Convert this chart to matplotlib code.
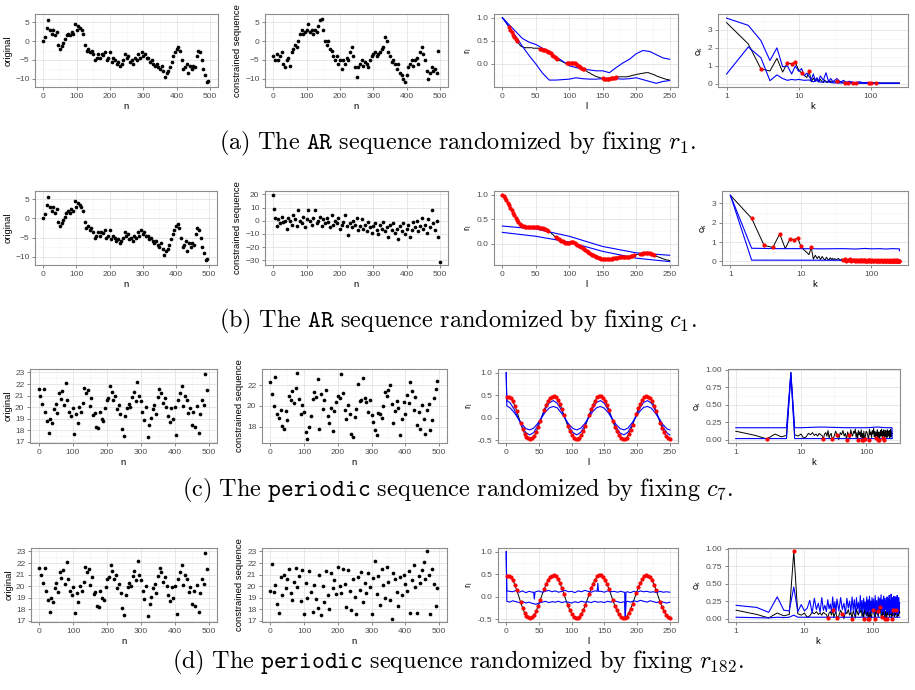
import numpy as np
import matplotlib.pyplot as plt
from matplotlib.ticker import NullFormatter

plt.rcParams['font.family'] = ['Liberation Sans', 'DejaVu Sans']

# ---- sequences (n = 0, 5, 10, ... 495) ----
ar_orig = [0.0, 1.2, 3.5, 5.5, 3.0, 2.0, 3.0, 1.5, 2.5, -1.0,
           -2.0, -1.2, -0.5, 0.5, 1.5, 2.0, 1.5, 2.5, 2.0, 4.5,
           3.0, 4.0, 3.5, 3.0, 2.0, -1.0, -2.5, -2.0, -3.0, -2.5,
           -3.5, -5.0, -4.5, -3.5, -4.5, -3.5, -3.8, -3.0, -5.0, -4.5,
           -3.0, -5.5, -4.5, -5.0, -6.0, -5.5, -6.5, -6.0, -5.0, -3.5,
           -4.5, -4.0, -5.5, -5.0, -6.0, -4.5, -5.0, -3.5, -4.5, -3.0,
           -4.0, -3.5, -4.5, -4.5, -5.5, -5.0, -6.0, -6.5, -6.0, -7.0,
           -7.5, -6.5, -8.0, -9.5, -8.5, -8.0, -7.0, -5.5, -4.0, -3.0,
           -2.0, -1.5, -2.5, -5.0, -7.5, -7.0, -6.0, -8.5, -6.5, -7.5,
           -6.5, -7.0, -4.0, -2.5, -3.0, -5.0, -7.5, -9.0, -11.0, -10.5]
ar_r1 = [-4, -5, -3.5, -5, -4, -3, -6, -7, -5, -4.5,
         -6.5, -3, -2, -1, -1.5, 0, 2, 3, 2, 2.5,
         3, 4.5, 2.5, 3, 2, 3, 2.5, 4, 5.5, 6,
         3, 0, -1, 0, -2, -2.5, -4, -5, -4, -6,
         -5, -7.5, -5, -6, -4.5, -5, -3, -1.5, -4, -7,
         -9.5, -7, -6, -5, -6.5, -5.5, -6, -7, -5, -4,
         -3.5, -3, -4, -3.5, -3, -2, -1.5, 1, 0, -3,
         -4, -5.5, -5, -6, -7.5, -6, -8.5, -9, -10, -11,
         -9, -7, -6, -5, -6.5, -5, -4.5, -6, -3, -1.5,
         -3.5, -5, -8, -10, -8.5, -7, -8, -7.5, -8.5, -2.5]
ar_c1 = [19.5, 2, -4, 1, -2, 3, -1, 0, -6, 2,
         0, -3, 4, 1, -4, 8, 0, -2, 3, -5,
         1, 8, 0, -3, 2, 8, -2, 0, 3, -4,
         1, -2, 2, -1, -5, 4, -3, 0, -2, 2,
         -6, -3, -1, 4, -4, -11, -2, -5, 0, -3,
         2, -7, -4, 1, -6, -3, -8, -1, -5, -9,
         -4, -2, -7, -10, -3, -6, -1, -8, -5, -12,
         -3, -7, -2, -9, -6, -14, -4, -8, -2, -10,
         -6, -3, -12, -7, -1, -5, 0, -8, -4, 2,
         -6, -3, -9, 1, -5, 8, -2, -7, 0, -12]
ar_c1_extra_n = [2, 499]
ar_c1_extra = [9, -31]
per_orig = [21.6, 21.0, 20.3, 21.6, 19.6, 18.8, 17.8, 19.0, 18.6, 19.8,
            20.3, 19.5, 21.2, 20.7, 21.4, 20.2, 22.1, 20.6, 19.6, 19.2,
            19.9, 17.7, 19.4, 18.6, 20.0, 19.6, 20.4, 21.7, 21.2, 21.5,
            20.1, 20.8, 19.3, 19.5, 18.3, 18.2, 19.6, 19.0, 18.8, 19.9,
            20.6, 20.8, 21.8, 21.3, 20.6, 21.0, 19.8, 20.2, 19.4, 18.1,
            17.5, 19.2, 19.9, 20.3, 20.0, 20.9, 21.3, 20.5, 22.2, 21.0,
            20.5, 19.6, 18.9, 20.0, 17.4, 18.5, 19.1, 19.8, 20.2, 19.4,
            20.9, 21.6, 21.2, 20.4, 20.8, 20.0, 19.2, 18.7, 19.9, 19.0,
            20.0, 17.6, 20.6, 21.2, 21.8, 20.1, 21.0, 20.6, 19.5, 19.9,
            18.5, 19.6, 18.3, 20.1, 17.8, 19.4, 20.6, 20.2, 22.9, 21.5]
per_c7 = [22.3, 21.2, 20.0, 22.8, 19.2, 18.8, 19.6, 18.1, 17.8, 19.5,
          18.6, 21.0, 20.6, 21.5, 20.3, 21.8, 23.2, 20.7, 19.2, 20.1,
          19.4, 17.5, 16.8, 18.0, 19.0, 20.7, 21.4, 20.9, 22.6, 17.8,
          21.2, 19.7, 20.6, 21.6, 19.0, 18.3, 19.8, 17.6, 19.5, 20.4,
          21.0, 20.8, 23.1, 21.3, 19.6, 18.7, 20.1, 19.2, 17.3, 17.0,
          18.9, 19.7, 22.1, 20.5, 20.6, 22.7, 20.8, 20.4, 19.4, 20.6,
          19.1, 18.4, 17.7, 17.2, 19.3, 19.2, 18.8, 20.0, 21.4, 21.0,
          21.6, 22.0, 20.2, 18.3, 19.5, 20.5, 19.8, 17.2, 18.7, 20.4,
          19.2, 21.1, 20.3, 22.3, 21.5, 19.6, 20.9, 18.2, 19.4, 17.8,
          20.1, 18.7, 17.3, 19.6, 20.2, 17.7, 18.6, 20.8, 21.7, 22.4]
per_r182 = [19.6, 21.9, 19.5, 20.1, 18.5, 17.7, 20.8, 19.2, 21.0, 19.8,
            20.6, 21.5, 19.4, 18.8, 20.4, 21.6, 19.9, 20.9, 18.7, 21.4,
            17.6, 20.3, 19.0, 21.3, 19.5, 17.8, 20.1, 18.9, 18.1, 21.0,
            17.5, 20.0, 18.6, 21.3, 19.2, 18.0, 21.1, 19.8, 20.5, 19.3,
            21.7, 20.0, 19.4, 21.5, 20.2, 18.2, 21.4, 19.6, 17.9, 20.6,
            19.1, 17.6, 20.8, 19.7, 21.2, 18.6, 20.3, 19.4, 21.1, 19.9,
            17.6, 20.7, 22.2, 19.3, 20.9, 18.4, 21.5, 20.1, 19.0, 21.7,
            20.4, 18.8, 17.2, 21.1, 20.6, 19.5, 18.3, 20.8, 19.2, 21.0,
            20.2, 19.6, 21.3, 17.7, 20.5, 21.8, 19.9, 17.7, 20.9, 20.3,
            21.4, 22.1, 20.6, 23.0, 21.0, 17.6, 21.5, 20.2, 18.3, 19.8]

# ---- autocorrelation r_l ----
# AR sequence, lags 0, 2, 4, ... 250
ar_rl = [1.00, 0.97, 0.93, 0.89, 0.84, 0.79, 0.74, 0.69, 0.63, 0.58, 0.53,
         0.49, 0.45, 0.41, 0.38, 0.37, 0.36, 0.35, 0.35, 0.35, 0.35,
         0.35, 0.35, 0.34, 0.34, 0.34, 0.34, 0.34, 0.33, 0.32, 0.31,
         0.30, 0.29, 0.28, 0.26, 0.25, 0.23, 0.20, 0.18, 0.15, 0.13,
         0.11, 0.09, 0.07, 0.06, 0.05, 0.03, 0.02, 0.01, 0.01, 0.02,
         0.03, 0.03, 0.03, 0.02, 0.00, -0.02, -0.04, -0.06, -0.08, -0.10,
         -0.12, -0.14, -0.16, -0.18, -0.19, -0.21, -0.23, -0.24, -0.26, -0.27,
         -0.28, -0.29, -0.30, -0.31, -0.31, -0.32, -0.32, -0.32, -0.32, -0.32,
         -0.31, -0.31, -0.30, -0.30, -0.29, -0.29, -0.28, -0.28, -0.28, -0.28,
         -0.28, -0.28, -0.28, -0.27, -0.27, -0.26, -0.25, -0.24, -0.24, -0.23,
         -0.22, -0.22, -0.21, -0.21, -0.20, -0.20, -0.19, -0.19, -0.19, -0.20,
         -0.21, -0.22, -0.23, -0.24, -0.26, -0.27, -0.28, -0.29, -0.30, -0.31,
         -0.32, -0.33, -0.34, -0.34, -0.35]
ar_rl_red_a = [(10, 22), (55, 82), (95, 122), (150, 171)]
ar_rl_red_b = [(0, 68), (80, 196), (206, 226)]

a_rl_hi_lag = [0, 10, 20, 30, 40, 50, 60, 70, 80, 90, 100, 110, 120, 130, 140,
               150, 160, 170, 180, 190, 200, 210, 220, 230, 240, 250]
a_rl_hi = [1.0, 0.85, 0.7, 0.55, 0.47, 0.42, 0.34, 0.26, 0.16, 0.06, -0.04, -0.08,
           -0.11, -0.13, -0.15, -0.15, -0.19, -0.08, 0.02, 0.1, 0.22, 0.29, 0.27,
           0.2, 0.13, 0.1]
a_rl_lo = [1.0, 0.8, 0.6, 0.38, 0.18, 0.0, -0.2, -0.35, -0.35, -0.34, -0.33, -0.3,
           -0.32, -0.33, -0.33, -0.32, -0.31, -0.32, -0.33, -0.32, -0.30, -0.34,
           -0.38, -0.42, -0.38, -0.36]
b_rl_lag = [0, 50, 100, 150, 200, 250]
b_rl_hi = [0.36, 0.30, 0.15, -0.06, -0.19, -0.24]
b_rl_lo = [0.23, 0.15, 0.03, -0.16, -0.30, -0.37]

# periodic sequence, lags 1, 4, 7, ... 250
per_rl = [0.47, 0.46, 0.43, 0.37, 0.27, 0.15, 0.02, -0.12, -0.25, -0.35,
          -0.42, -0.46, -0.48, -0.46, -0.40, -0.31, -0.20, -0.08, 0.05, 0.17,
          0.28, 0.37, 0.44, 0.47, 0.48, 0.45, 0.39, 0.30, 0.19, 0.07,
          -0.06, -0.18, -0.29, -0.38, -0.44, -0.48, -0.48, -0.45, -0.38, -0.29,
          -0.18, -0.06, 0.07, 0.19, 0.29, 0.38, 0.45, 0.48, 0.48, 0.44,
          0.37, 0.28, 0.17, 0.05, -0.08, -0.20, -0.30, -0.39, -0.45, -0.48,
          -0.48, -0.44, -0.37, -0.27, -0.16, -0.04, 0.09, 0.21, 0.31, 0.39,
          0.45, 0.48, 0.47, 0.43, 0.36, 0.26, 0.15, 0.02, -0.11, -0.22,
          -0.32, -0.40, -0.45, -0.47]

c_rl_lag = [0, 1, 6, 12, 18, 24, 30, 36, 42, 48, 54, 60, 66, 72, 78, 84, 90, 96,
            102, 108, 114, 120, 126, 132, 138, 144, 150, 156, 162, 168, 174, 180,
            186, 192, 198, 204, 210, 216, 222, 228, 234, 240, 246, 250]
c_rl_hi = [1.0, 0.38, 0.33, 0.19, 0.0, -0.19, -0.33, -0.38, -0.33, -0.18, 0.01,
           0.2, 0.33, 0.38, 0.32, 0.18, -0.01, -0.2, -0.33, -0.38, -0.32, -0.17,
           0.02, 0.2, 0.34, 0.38, 0.32, 0.17, -0.02, -0.21, -0.34, -0.38, -0.32,
           -0.17, 0.03, 0.21, 0.34, 0.38, 0.32, 0.16, -0.03, -0.22, -0.34, -0.38]
c_rl_lo = [1.0, 0.26, 0.22, 0.12, -0.01, -0.14, -0.24, -0.27, -0.23, -0.13, 0.0,
           0.13, 0.22, 0.25, 0.22, 0.11, -0.02, -0.15, -0.24, -0.27, -0.23, -0.13,
           0.0, 0.13, 0.22, 0.25, 0.21, 0.11, -0.03, -0.15, -0.24, -0.27, -0.23,
           -0.12, 0.01, 0.14, 0.23, 0.25, 0.21, 0.1, -0.03, -0.16, -0.25, -0.27]
d_rl_lag = [0, 1, 5, 10, 15, 20, 25, 30, 35, 40, 42, 43, 44, 45, 50, 55, 60, 65,
            70, 75, 80, 85, 90, 95, 100, 105, 110, 115, 120, 125, 130, 135, 139,
            140, 141, 145, 150, 155, 160, 165, 170, 175, 180, 181, 182, 183, 185,
            190, 195, 200, 205, 210, 215, 220, 225, 230, 235, 240, 245, 250]
d_rl_hi = [1.0, 0.13, 0.12, 0.11, 0.14, 0.10, 0.13, 0.09, 0.12, 0.10, 0.10, -0.05,
           0.10, 0.11, 0.13, 0.10, 0.12, 0.14, 0.11, 0.13, 0.10, 0.12, 0.14, 0.11,
           0.12, 0.09, 0.13, 0.11, 0.14, 0.12, 0.10, 0.13, 0.12, 0.30, 0.12, 0.12,
           0.10, 0.13, 0.11, 0.12, 0.10, 0.12, 0.10, 0.10, -0.48, 0.10, 0.11, 0.09,
           0.12, 0.10, 0.13, 0.11, 0.12, 0.10, 0.11, 0.09, 0.12, 0.10, 0.11, 0.10]
d_rl_lo = [1.0, -0.10, -0.12, -0.09, -0.11, -0.13, -0.10, -0.14, -0.12, -0.15,
           -0.15, -0.16, -0.16, -0.17, -0.14, -0.12, -0.10, -0.13, -0.11, -0.12,
           -0.10, -0.13, -0.11, -0.12, -0.14, -0.11, -0.13, -0.10, -0.12, -0.11,
           -0.13, -0.10, -0.12, -0.12, -0.12, -0.11, -0.13, -0.10, -0.12, -0.09,
           -0.11, -0.13, -0.11, -0.12, -0.48, -0.12, -0.10, -0.12, -0.09, -0.11,
           -0.08, -0.10, -0.12, -0.09, -0.11, -0.13, -0.10, -0.12, -0.14, -0.12]

# ---- c_k ----
k_grid = list(range(1, 31)) + list(range(32, 101, 2)) + list(range(103, 251, 3))
ar_ck = [3.40, 2.22, 0.83, 0.72, 1.42, 0.66, 1.16, 1.12, 1.20, 0.78,
         0.60, 0.48, 0.35, 0.72, 0.12, 0.32, 0.15, 0.27, 0.10, 0.26,
         0.14, 0.08, 0.22, 0.12, 0.07, 0.19, 0.10, 0.17, 0.06, 0.15,
         0.09, 0.16, 0.05, 0.13, 0.08, 0.12, 0.04, 0.10, 0.07, 0.11,
         0.05, 0.09, 0.06, 0.03, 0.08, 0.05, 0.09, 0.04, 0.06, 0.07,
         0.03, 0.08, 0.05, 0.06, 0.04, 0.07, 0.05, 0.03, 0.06, 0.05,
         0.07, 0.04, 0.06, 0.05, 0.03,
         0.06, 0.04, 0.05, 0.07, 0.03, 0.05, 0.04, 0.06, 0.03, 0.05,
         0.04, 0.06, 0.05, 0.03, 0.05, 0.04, 0.06, 0.05, 0.03, 0.04,
         0.05, 0.06, 0.04, 0.05, 0.03, 0.05, 0.04, 0.06, 0.05, 0.04,
         0.03, 0.05, 0.06, 0.04, 0.05, 0.03, 0.04, 0.05, 0.06, 0.04,
         0.05, 0.03, 0.04, 0.06, 0.05, 0.04, 0.05, 0.03, 0.04, 0.05]
ar_ck_red_a = [3, 7, 8, 9, 11, 14, 34, 44, 48, 56, 62, 96, 100, 118]
ar_ck_red_b = [2, 3, 4, 5, 7, 8, 9, 10, 14]  # plus every k >= 40

a_ck_hi_k = list(range(1, 21)) + [22, 24, 26, 28, 30, 34, 38, 42, 46, 50, 60, 70,
                                   80, 90, 100, 120, 140, 170, 200, 250]
a_ck_hi = [3.65, 3.25, 2.4, 1.3, 2.0, 0.95, 1.0, 0.55, 1.0, 0.7,
           0.85, 0.45, 0.6, 0.4, 0.25, 0.55, 0.2, 0.35, 0.15, 0.45,
           0.2, 0.62, 0.15, 0.3, 0.12, 0.3, 0.1, 0.2, 0.08, 0.15,
           0.07, 0.12, 0.06, 0.09, 0.05, 0.07, 0.05, 0.05, 0.05, 0.05]
a_ck_lo_k = [1, 2, 3, 4, 5, 6, 7, 8, 9, 10, 12, 14, 16, 18, 20, 25, 30, 40, 60, 100, 250]
a_ck_lo = [0.55, 2.05, 1.45, 0.18, 0.5, 0.3, 0.2, 0.25, 0.22, 0.25, 0.2, 0.22,
           0.12, 0.18, 0.1, 0.12, 0.06, 0.05, 0.04, 0.03, 0.03]
b_ck_hi_k = [1, 2, 5, 10, 20, 40, 60, 80, 100, 130, 160, 200, 240, 248, 250]
b_ck_hi = [3.4, 0.68, 0.66, 0.66, 0.65, 0.66, 0.64, 0.67, 0.65, 0.66, 0.64,
           0.66, 0.65, 0.65, 0.55]
b_ck_lo_k = [1, 2, 250]
b_ck_lo = [3.4, 0.07, 0.06]

per_ck = [0.12, 0.06, 0.01, 0.08, 0.04, 0.06, 0.96, 0.07, 0.05, 0.08,
          0.02, 0.04, 0.09, 0.07, 0.10, 0.06, 0.08, 0.05, 0.09, 0.07,
          0.06, 0.01, 0.08, 0.10, 0.05, 0.13, 0.02, 0.07, 0.09, 0.01,
          0.04, 0.12, 0.06, 0.00, 0.10, 0.07, 0.13, 0.05, 0.09, 0.00,
          0.11, 0.06, 0.01, 0.14, 0.08, 0.05, 0.12, 0.09, 0.15, 0.03,
          0.10, 0.00, 0.13, 0.07, 0.11, 0.04, 0.14, 0.00, 0.09, 0.00,
          0.12, 0.03, 0.01, 0.08, 0.12,
          0.10, 0.05, 0.00, 0.15, 0.07, 0.11, 0.03, 0.13, 0.08, 0.16,
          0.04, 0.12, 0.02, 0.10, 0.06, 0.14, 0.00, 0.09, 0.11, 0.00,
          0.07, 0.13, 0.05, 0.15, 0.08, 0.02, 0.12, 0.06, 0.14, 0.00,
          0.10, 0.04, 0.13, 0.07, 0.11, 0.03, 0.14, 0.08, 0.05, 0.12,
          0.06, 0.13, 0.02, 0.10, 0.07, 0.15, 0.04, 0.11, 0.08, 0.09]
per_ck_red_c = [3, 22, 30, 36, 50, 54, 74, 86, 90, 96, 109, 139, 151, 160, 178, 190]
per_ck_red_d = [7, 22, 26, 30, 36, 50, 74, 86, 90, 100, 109, 118, 130, 139, 151,
                160, 190, 199, 220]

c_ck_hi_k = [1, 2, 4, 6, 7, 8, 10, 20, 50, 100, 150, 200, 249, 250]
c_ck_hi = [0.17, 0.17, 0.17, 0.17, 0.96, 0.17, 0.17, 0.18, 0.17, 0.17, 0.18,
           0.17, 0.17, 0.02]
c_ck_lo_k = [1, 6, 7, 8, 250]
c_ck_lo = [0.015, 0.015, 0.93, 0.015, 0.015]
d_ck_hi = [0.19, 0.16, 0.09, 0.31, 0.12, 0.11, 0.45, 0.10, 0.20, 0.11,
           0.15, 0.26, 0.08, 0.29, 0.13, 0.22, 0.09, 0.30, 0.12, 0.19,
           0.10, 0.27, 0.14, 0.21, 0.09, 0.31, 0.12, 0.24, 0.08, 0.28,
           0.11, 0.30, 0.13, 0.22, 0.07, 0.29, 0.15, 0.25, 0.09, 0.31,
           0.12, 0.27, 0.06, 0.30, 0.14, 0.23, 0.08, 0.33, 0.11, 0.26,
           0.07, 0.29, 0.13, 0.24, 0.05, 0.31, 0.10, 0.27, 0.06, 0.32,
           0.12, 0.25, 0.08, 0.30, 0.11,
           0.28, 0.06, 0.33, 0.12, 0.26, 0.05, 0.31, 0.09, 0.29, 0.14,
           0.34, 0.07, 0.27, 0.11, 0.32, 0.05, 0.29, 0.13, 0.25, 0.08,
           0.31, 0.10, 0.28, 0.06, 0.33, 0.12, 0.26, 0.07, 0.35, 0.09,
           0.30, 0.11, 0.27, 0.05, 0.32, 0.13, 0.24, 0.08, 0.31, 0.10,
           0.28, 0.06, 0.33, 0.12, 0.25, 0.07, 0.30, 0.11, 0.23, 0.22]
d_ck_lo_k = [1, 3, 4, 5, 6, 7, 8, 10, 250]
d_ck_lo = [0.02, 0.01, 0.02, 0.015, 0.02, 0.05, 0.02, 0.02, 0.02]

captions = [
    r"$\mathrm{(a)\ The\ }\mathtt{AR}\mathrm{\ sequence\ randomized\ by\ fixing\ }r_1\mathrm{.}$",
    r"$\mathrm{(b)\ The\ }\mathtt{AR}\mathrm{\ sequence\ randomized\ by\ fixing\ }c_1\mathrm{.}$",
    r"$\mathrm{(c)\ The\ }\mathtt{periodic}\mathrm{\ sequence\ randomized\ by\ fixing\ }c_7\mathrm{.}$",
    r"$\mathrm{(d)\ The\ }\mathtt{periodic}\mathrm{\ sequence\ randomized\ by\ fixing\ }r_{182}\mathrm{.}$",
]

W, H = 915, 690
fig = plt.figure(figsize=(W / 100, H / 100), dpi=100)

rows_y = [(14, 87), (191, 265), (369, 443), (548, 622)]
cols_x = [[(35, 218), (265, 448), (494, 678), (718, 908)],
          [(35, 217), (265, 448), (494, 678), (722, 908)],
          [(30, 217), (262, 447), (498, 678), (728, 900)],
          [(31, 217), (262, 447), (498, 678), (728, 908)]]
cap_y = [143, 321, 490, 662]


def add_ax(x, y):
    return fig.add_axes([x[0] / W, 1 - y[1] / H, (x[1] - x[0]) / W, (y[1] - y[0]) / H])


def style(ax, xlim, ylim, xt, xm, yt, ym, xl=None, yl=None, xlabel='', ylabel=''):
    ax.set_xlim(xlim)
    ax.set_ylim(ylim)
    ax.set_xticks(xt)
    ax.set_xticks(xm, minor=True)
    ax.set_yticks(yt)
    ax.set_yticks(ym, minor=True)
    if xl is not None:
        ax.set_xticklabels(xl)
    if yl is not None:
        ax.set_yticklabels(yl)
    ax.xaxis.set_minor_formatter(NullFormatter())
    ax.grid(True, which='major', color='#E3E3E3', lw=0.6)
    ax.grid(True, which='minor', color='#F3F3F3', lw=0.4)
    ax.set_axisbelow(True)
    for s in ax.spines.values():
        s.set_color('#8C8C8C')
        s.set_linewidth(0.8)
    ax.tick_params(which='major', length=2.5, width=0.5, color='#555555',
                   labelsize=6, labelcolor='#4D4D4D', pad=1.5)
    ax.tick_params(which='minor', length=0)
    ax.set_xlabel(xlabel, fontsize=6.8, labelpad=1.5)
    ax.set_ylabel(ylabel, fontsize=6.8, labelpad=2)


def seq_panel(ax, y, ylim, yt, ym, ylabel, extra=None):
    n = 5 * np.arange(len(y))
    ax.scatter(n, y, s=7, c='black', linewidths=0, zorder=3)
    if extra is not None:
        ax.scatter(extra[0], extra[1], s=7, c='black', linewidths=0, zorder=3)
    style(ax, (-25, 524), ylim, [0, 100, 200, 300, 400, 500], [50, 150, 250, 350, 450],
          yt, ym, xlabel='n', ylabel=ylabel)


def in_ranges(x, ranges):
    x = np.asarray(x)
    m = np.zeros(len(x), bool)
    for lo, hi in ranges:
        m |= (x >= lo) & (x <= hi)
    return m


def rl_panel(ax, lags, vals, red, blues, ylim, neg_tick):
    lags = np.asarray(lags)
    vals = np.asarray(vals)
    ax.plot(lags, vals, color='black', lw=0.7, zorder=3)
    for bl, bv in blues:
        ax.plot(bl, bv, color='#0000FF', lw=0.8, zorder=4)
    ax.scatter(lags[red], vals[red], s=9, c='#FF0000', linewidths=0, zorder=5)
    yt = [-0.5, 0.0, 0.5, 1.0] if neg_tick else [0.0, 0.5, 1.0]
    style(ax, (-12.5, 262.5), ylim, [0, 50, 100, 150, 200, 250],
          [25, 75, 125, 175, 225], yt, [-0.25, 0.25, 0.75],
          yl=['%.1f' % v for v in yt], xlabel='l', ylabel=r'$\mathregular{r_l}$')


def ck_panel(ax, ks, vals, red, blues, ylim, yt, ym, yl):
    ax.set_xscale('log')
    ks = np.asarray(ks)
    vals = np.asarray(vals)
    ax.plot(ks, vals, color='black', lw=0.7, zorder=3)
    for bk, bv in blues:
        ax.plot(bk, bv, color='#0000FF', lw=0.8, zorder=4)
    ax.scatter(ks[red], vals[red], s=9, c='#FF0000', linewidths=0, zorder=5)
    style(ax, (0.76, 330), ylim, [1, 10, 100], [10 ** 0.5, 10 ** 1.5], yt, ym,
          xl=['1', '10', '100'], yl=yl, xlabel='k', ylabel=r'$\mathregular{c_k}$')


ar_lags = 2 * np.arange(len(ar_rl))
per_lags = 1 + 3 * np.arange(len(per_rl))
kg = np.asarray(k_grid)

# row (a)
ax = [add_ax(c, rows_y[0]) for c in cols_x[0]]
seq_panel(ax[0], ar_orig, (-12.2, 7.2), [-10, -5, 0, 5], [-7.5, -2.5, 2.5], 'original')
seq_panel(ax[1], ar_r1, (-12.2, 7.2), [-10, -5, 0, 5], [-7.5, -2.5, 2.5], 'constrained sequence')
rl_panel(ax[2], ar_lags, ar_rl, in_ranges(ar_lags, ar_rl_red_a),
         [(a_rl_hi_lag, a_rl_hi), (a_rl_hi_lag, a_rl_lo)], (-0.5, 1.08), False)
ck_panel(ax[3], kg, ar_ck, np.isin(kg, ar_ck_red_a),
         [(a_ck_hi_k, a_ck_hi), (a_ck_lo_k, a_ck_lo)], (-0.17, 3.88),
         [0, 1, 2, 3], [0.5, 1.5, 2.5, 3.5], ['0', '1', '2', '3'])

# row (b)
ax = [add_ax(c, rows_y[1]) for c in cols_x[1]]
seq_panel(ax[0], ar_orig, (-12.2, 7.2), [-10, -5, 0, 5], [-7.5, -2.5, 2.5], 'original')
seq_panel(ax[1], ar_c1, (-33.5, 22.5), [-30, -20, -10, 0, 10, 20], [-25, -15, -5, 5, 15],
          'constrained sequence', extra=(ar_c1_extra_n, ar_c1_extra))
rl_panel(ax[2], ar_lags, ar_rl, in_ranges(ar_lags, ar_rl_red_b),
         [(b_rl_lag, b_rl_hi), (b_rl_lag, b_rl_lo)], (-0.44, 1.08), False)
ck_panel(ax[3], kg, ar_ck, np.isin(kg, ar_ck_red_b) | (kg >= 40),
         [(b_ck_hi_k, b_ck_hi), (b_ck_lo_k, b_ck_lo)], (-0.18, 3.62),
         [0, 1, 2, 3], [0.5, 1.5, 2.5, 3.5], ['0', '1', '2', '3'])

ck_t = [0, 0.25, 0.5, 0.75, 1.0]
ck_m = [0.125, 0.375, 0.625, 0.875]
ck_l = ['0.00', '0.25', '0.50', '0.75', '1.00']
per_red = np.abs(per_rl) > 0.06

# row (c)
ax = [add_ax(c, rows_y[2]) for c in cols_x[2]]
seq_panel(ax[0], per_orig, (16.9, 23.3), [17, 18, 19, 20, 21, 22, 23],
          [17.5, 18.5, 19.5, 20.5, 21.5, 22.5], 'original')
seq_panel(ax[1], per_c7, (16.4, 23.6), [18, 20, 22], [17, 19, 21, 23], 'constrained sequence')
rl_panel(ax[2], per_lags, per_rl, per_red,
         [(c_rl_lag, c_rl_hi), (c_rl_lag, c_rl_lo)], (-0.56, 1.08), True)
ck_panel(ax[3], kg, per_ck, np.isin(kg, per_ck_red_c),
         [(c_ck_hi_k, c_ck_hi), (c_ck_lo_k, c_ck_lo)], (-0.048, 1.008), ck_t, ck_m, ck_l)

# row (d)
ax = [add_ax(c, rows_y[3]) for c in cols_x[3]]
seq_panel(ax[0], per_orig, (16.9, 23.3), [17, 18, 19, 20, 21, 22, 23],
          [17.5, 18.5, 19.5, 20.5, 21.5, 22.5], 'original')
seq_panel(ax[1], per_r182, (16.9, 23.3), [17, 18, 19, 20, 21, 22, 23],
          [17.5, 18.5, 19.5, 20.5, 21.5, 22.5], 'constrained sequence')
rl_panel(ax[2], per_lags, per_rl, per_red,
         [(d_rl_lag, d_rl_hi), (d_rl_lag, d_rl_lo)], (-0.56, 1.08), True)
ck_panel(ax[3], kg, per_ck, np.isin(kg, per_ck_red_d),
         [(k_grid, d_ck_hi), (d_ck_lo_k, d_ck_lo)], (-0.048, 1.008), ck_t, ck_m, ck_l)

for cap, y in zip(captions, cap_y):
    fig.text(0.5, 1 - y / H, cap, ha='center', va='center', fontsize=17.5,
             math_fontfamily='cm')

fig.savefig('out.png', dpi=100)
